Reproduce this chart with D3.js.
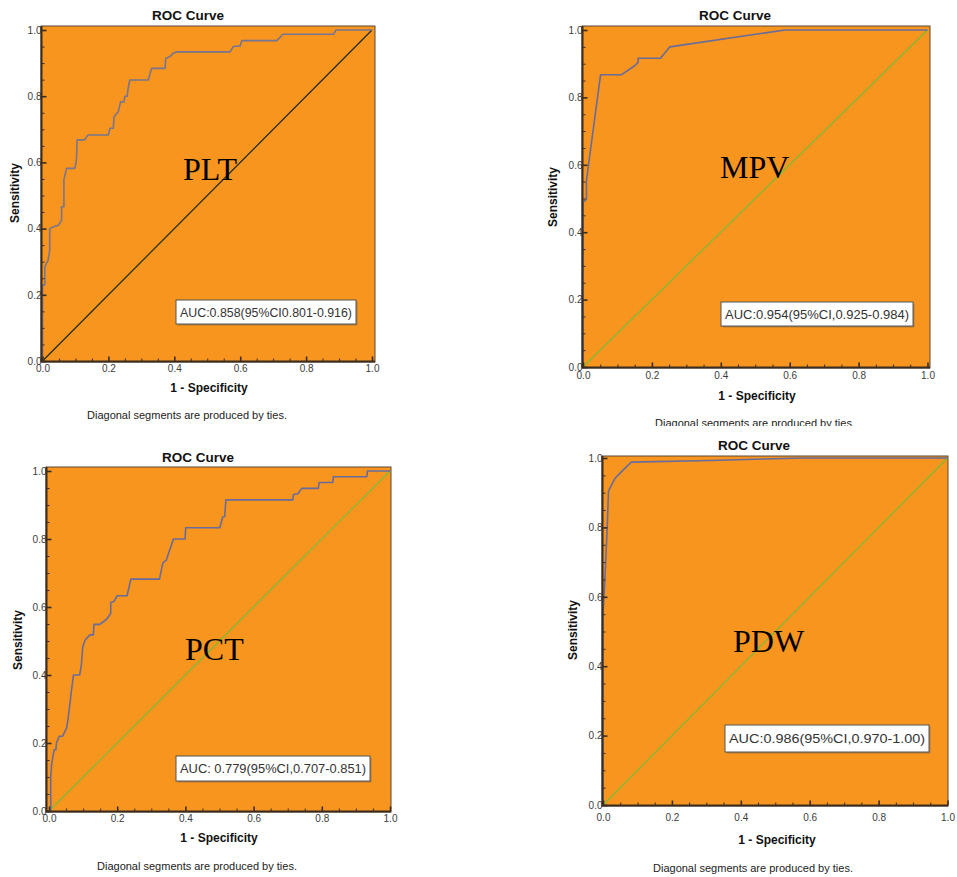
<!DOCTYPE html>
<html>
<head>
<meta charset="utf-8">
<script src="https://cdn.jsdelivr.net/npm/d3@7"></script>
<style>
  html, body { margin: 0; padding: 0; background: #ffffff; }
  svg { display: block; }
</style>
</head>
<body>
<svg id="chart" width="957" height="877"></svg>
<script>
// ---------------- data ----------------
const panelNames = ["PLT", "MPV", "PCT", "PDW"];
const aucTexts = [
  "AUC:0.858(95%CI0.801-0.916)",
  "AUC:0.954(95%CI,0.925-0.984)",
  "AUC: 0.779(95%CI,0.707-0.851)",
  "AUC:0.986(95%CI,0.970-1.00)"
];
const titleText = "ROC Curve";
const xTitle = "1 - Specificity";
const yTitle = "Sensitivity";
const footText = "Diagonal segments are produced by ties.";
const majorTicks = [0, 0.2, 0.4, 0.6, 0.8, 1.0];
const tickLabels = ["0.0", "0.2", "0.4", "0.6", "0.8", "1.0"];
const minorTicks = [0.05,0.1,0.15,0.25,0.3,0.35,0.45,0.5,0.55,0.65,0.7,0.75,0.85,0.9,0.95];

const pltFpr = [0,0,0.007,0.007,0.017,0.022,0.022,0.032,0.048,0.058,0.058,0.065,0.065,0.073,0.098,0.103,0.105,0.128,0.138,0.2,0.205,0.215,0.217,0.23,0.237,0.247,0.25,0.257,0.26,0.265,0.321,0.331,0.372,0.374,0.387,0.397,0.407,0.569,0.579,0.6,0.605,0.711,0.73,0.883,0.891,1];
const pltTpr = [0,0.23,0.23,0.285,0.305,0.335,0.40,0.405,0.41,0.425,0.466,0.466,0.547,0.582,0.582,0.607,0.668,0.668,0.683,0.683,0.703,0.703,0.738,0.753,0.783,0.783,0.8,0.8,0.824,0.849,0.849,0.884,0.884,0.914,0.92,0.93,0.934,0.934,0.95,0.952,0.968,0.968,0.987,0.987,1,1];

const mpvFpr = [0,0,0.01,0.01,0.015,0.029,0.051,0.111,0.15,0.16,0.16,0.225,0.252,0.586,1];
const mpvTpr = [0,0.488,0.498,0.552,0.592,0.70,0.867,0.867,0.894,0.904,0.916,0.916,0.95,1,1];

const pctFpr = [0,0.005,0.005,0.008,0.015,0.02,0.022,0.03,0.04,0.052,0.057,0.063,0.066,0.072,0.09,0.095,0.099,0.106,0.12,0.13,0.132,0.149,0.169,0.181,0.181,0.19,0.2,0.229,0.24,0.324,0.334,0.344,0.365,0.399,0.401,0.501,0.509,0.515,0.519,0.715,0.717,0.73,0.741,0.79,0.792,0.832,0.834,0.932,0.934,1];
const pctTpr = [0,0,0.1,0.14,0.18,0.18,0.2,0.22,0.22,0.245,0.28,0.33,0.356,0.4,0.4,0.43,0.483,0.503,0.518,0.518,0.549,0.549,0.564,0.581,0.613,0.616,0.633,0.633,0.682,0.682,0.73,0.738,0.8,0.8,0.833,0.833,0.864,0.866,0.915,0.915,0.931,0.933,0.949,0.949,0.966,0.966,0.983,0.983,1,1];

const pdwFpr = [0,0,0.005,0.012,0.016,0.034,0.053,0.082,0.31,0.58,1];
const pdwTpr = [0,0.55,0.64,0.795,0.905,0.94,0.96,0.988,0.993,1,1];

const seriesFpr = [pltFpr, mpvFpr, pctFpr, pdwFpr];
const seriesTpr = [pltTpr, mpvTpr, pctTpr, pdwTpr];

// ---------------- layout (positions / styles) ----------------
const layout = [
  { x0: 42.5, x1: 372, y0: 361, y1: 30, frame: [41, 26, 375, 362], xpad: 3,
    title: [188, 15], xlab: [209, 388], foot: [187, 415], ylab: [15, 193],
    name: [183, 180], box: [176, 300, 356, 324],
    diag: "#1e2812", curve: "#77758f", clipFoot: null },
  { x0: 583, x1: 927.5, y0: 367, y1: 30, frame: [582, 26, 930, 368], xpad: 4,
    title: [735, 15], xlab: [757, 396], foot: [755, 423], ylab: [553, 197],
    name: [720, 178], box: [721, 302, 913, 326],
    diag: "#7dbb35", curve: "#676c9c", clipFoot: 426 },
  { x0: 49, x1: 390, y0: 811, y1: 471, frame: [46, 467, 391, 812], xpad: 3.5,
    title: [198, 457], xlab: [219, 838], foot: [197, 866], ylab: [18, 640],
    name: [185, 660], box: [176, 756, 370, 781],
    diag: "#7dbb35", curve: "#676c9c", clipFoot: null },
  { x0: 603, x1: 947.5, y0: 805, y1: 458, frame: [602, 456, 948, 806], xpad: 8.5,
    title: [754, 445], xlab: [777, 840], foot: [753, 868], ylab: [573, 630],
    name: [733, 652], box: [725, 725, 929, 752],
    diag: "#7dbb35", curve: "#676c9c", clipFoot: null }
];

const orange = "#f7951f";
const axisColor = "#3a2c1e";
const svg = d3.select("#chart");
const defs = svg.append("defs");

layout.forEach((L, i) => {
  const g = svg.append("g");
  const x = d3.scaleLinear().domain([0, 1]).range([L.x0, L.x1]);
  const y = d3.scaleLinear().domain([0, 1]).range([L.y0, L.y1]);

  // plot frame
  g.append("rect")
    .attr("x", L.frame[0]).attr("y", L.frame[1])
    .attr("width", L.frame[2] - L.frame[0]).attr("height", L.frame[3] - L.frame[1])
    .attr("fill", orange).attr("stroke", "#5a4836").attr("stroke-width", 1);

  // diagonal reference line
  g.append("line")
    .attr("x1", x(0)).attr("y1", y(0)).attr("x2", x(1)).attr("y2", y(1))
    .attr("stroke", L.diag).attr("stroke-width", 1.2);

  // ROC curve
  const pts = seriesFpr[i].map((f, k) => [f, seriesTpr[i][k]]);
  g.append("path")
    .datum(pts)
    .attr("d", d3.line().x(d => x(d[0])).y(d => y(d[1])))
    .attr("fill", "none").attr("stroke", L.curve).attr("stroke-width", 1.6)
    .attr("stroke-linejoin", "round");

  // minor ticks
  const axL = L.frame[0] + 0.5;
  const axB = L.frame[3] - 0.5;
  g.append("g").attr("transform", `translate(${axL},0)`)
    .call(d3.axisLeft(y).tickValues(minorTicks).tickSize(-3).tickFormat(""))
    .call(s => s.select(".domain").remove())
    .selectAll("line").attr("stroke", axisColor).attr("stroke-width", 1);
  g.append("g").attr("transform", `translate(0,${axB})`)
    .call(d3.axisBottom(x).tickValues(minorTicks).tickSize(-3).tickFormat(""))
    .call(s => s.select(".domain").remove())
    .selectAll("line").attr("stroke", axisColor).attr("stroke-width", 1);

  // major axes
  const yAxis = g.append("g").attr("transform", `translate(${axL},0)`)
    .call(d3.axisLeft(y).tickValues(majorTicks).tickSize(-5).tickSizeOuter(0)
      .tickPadding(0).tickFormat((d, k) => tickLabels[k]));
  const xAxis = g.append("g").attr("transform", `translate(0,${axB})`)
    .call(d3.axisBottom(x).tickValues(majorTicks).tickSize(-5).tickSizeOuter(0)
      .tickPadding(L.xpad).tickFormat((d, k) => tickLabels[k]));
  [yAxis, xAxis].forEach(a => {
    a.select(".domain").remove();
    a.selectAll("line").attr("stroke", axisColor).attr("stroke-width", 1.6);
    a.selectAll("text").attr("fill", "#3c3c3c")
      .attr("font-family", "Liberation Sans, Arial, sans-serif").attr("font-size", 10);
  });
  // axis lines
  g.append("line").attr("x1", axL).attr("x2", axL).attr("y1", L.frame[1]).attr("y2", L.frame[3])
    .attr("stroke", axisColor).attr("stroke-width", 2);
  g.append("line").attr("x1", L.frame[0]).attr("x2", L.frame[2]).attr("y1", axB).attr("y2", axB)
    .attr("stroke", axisColor).attr("stroke-width", 2);

  // titles
  const sans = "Liberation Sans, Arial, sans-serif";
  g.append("text").attr("x", L.title[0]).attr("y", L.title[1]).attr("dy", "0.35em")
    .attr("text-anchor", "middle").attr("font-family", sans).attr("font-weight", "bold")
    .attr("font-size", 13.5).attr("fill", "#111").text(titleText);
  g.append("text").attr("x", L.xlab[0]).attr("y", L.xlab[1]).attr("dy", "0.35em")
    .attr("text-anchor", "middle").attr("font-family", sans).attr("font-weight", "bold")
    .attr("font-size", 12).attr("fill", "#111").text(xTitle);
  g.append("text").attr("transform", `translate(${L.ylab[0]},${L.ylab[1]}) rotate(-90)`)
    .attr("dy", "0.35em").attr("text-anchor", "middle").attr("font-family", sans)
    .attr("font-weight", "bold").attr("font-size", 12).attr("fill", "#111").text(yTitle);

  const foot = g.append("text").attr("x", L.foot[0]).attr("y", L.foot[1]).attr("dy", "0.35em")
    .attr("text-anchor", "middle").attr("font-family", sans)
    .attr("font-size", 11).attr("fill", "#222").text(footText);
  if (L.clipFoot !== null) {
    const id = "clipfoot" + i;
    defs.append("clipPath").attr("id", id).append("rect")
      .attr("x", 0).attr("y", 0).attr("width", 957).attr("height", L.clipFoot);
    foot.attr("clip-path", `url(#${id})`);
  }

  // big panel name
  g.append("text").attr("x", L.name[0]).attr("y", L.name[1])
    .attr("font-family", "Liberation Serif, 'Times New Roman', serif")
    .attr("font-size", 32).attr("fill", "#000").text(panelNames[i]);

  // AUC box
  const b = L.box;
  g.append("rect").attr("x", b[0] + 1.5).attr("y", b[1] + 1.5)
    .attr("width", b[2] - b[0]).attr("height", b[3] - b[1]).attr("fill", "#8a6a48").attr("opacity", 0.6);
  g.append("rect").attr("x", b[0]).attr("y", b[1])
    .attr("width", b[2] - b[0]).attr("height", b[3] - b[1])
    .attr("fill", "#ffffff").attr("stroke", "#555").attr("stroke-width", 1);
  g.append("text").attr("x", b[0] + 4).attr("y", (b[1] + b[3]) / 2).attr("dy", "0.35em")
    .attr("font-family", sans).attr("font-size", 13).attr("fill", "#333")
    .attr("textLength", b[2] - b[0] - 8).attr("lengthAdjust", "spacingAndGlyphs")
    .text(aucTexts[i]);
});
</script>
</body>
</html>
